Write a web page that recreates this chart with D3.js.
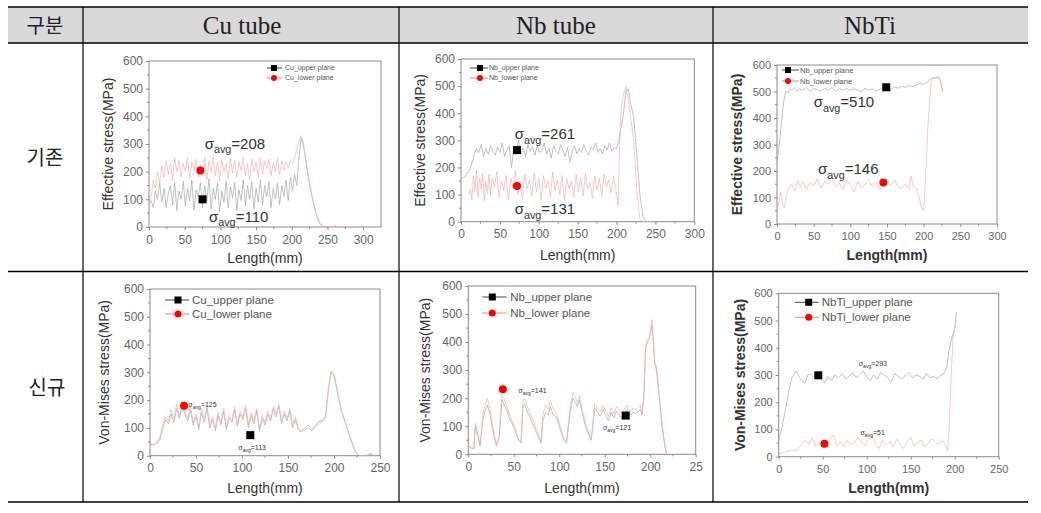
<!DOCTYPE html>
<html><head><meta charset="utf-8">
<script src="https://cdn.jsdelivr.net/npm/d3@7/dist/d3.min.js"></script>
<style>body{margin:0;background:#fff}svg{display:block}</style>
</head><body>
<svg id="c" width="1041" height="513"></svg>
<script>
// ---------- table text ----------
const headers = ["구분", "Cu tube", "Nb tube", "NbTi"];
const rowLabels = ["기존", "신규"];

// ---------- Chart 1: Cu tube, existing ----------
const c1UpX = [0,3,6,9,12,15,18,21,24,27,30,33,36,39,42,45,48,51,54,57,60,63,66,69,72,75,78,81,84,87,90,93,96,99,102,105,108,111,114,117,120,123,126,129,132,135,138,141,144,147,150,153,156,159,162,165,168,171,174,177,180,183,186,189,192,195,198,201,204,207,210,213,216,220,225,230,235,240,245,250];
const c1UpY = [80,95,70,130,100,160,90,140,70,120,150,80,160,60,130,100,165,75,140,95,170,60,135,110,160,70,150,90,175,65,140,100,160,55,130,90,165,70,145,105,160,60,135,95,170,75,150,100,165,65,140,90,170,80,150,110,165,70,140,100,160,80,150,110,170,95,180,130,190,150,250,320,300,230,150,90,40,10,0,0];
const c1LoX = [0,3,6,9,12,15,18,21,24,27,30,33,36,39,42,45,48,51,54,57,60,63,66,69,72,75,78,81,84,87,90,93,96,99,102,105,108,111,114,117,120,123,126,129,132,135,138,141,144,147,150,153,156,159,162,165,168,171,174,177,180,183,186,189,192,195,198,201,204,207,210,213,216,220,225,230,235,240,245,255,260,270,280];
const c1LoY = [90,110,170,140,200,160,220,180,240,190,230,170,250,200,240,180,230,200,250,175,235,205,245,180,225,190,250,170,240,200,255,185,235,170,245,200,230,175,250,195,240,180,235,205,250,185,230,170,245,200,235,180,250,190,240,210,245,185,230,200,250,190,240,205,235,215,240,230,250,280,310,330,310,240,160,90,40,10,0,0,5,0,3];
const c1Marks = [{x:75, y:100, s:"sq"}, {x:72, y:204, s:"ci"}];

// ---------- Chart 2: Nb tube, existing ----------
const c2UpX = [0,4,8,11,14,17,20,23,26,29,32,35,38,41,44,47,50,53,56,59,62,65,68,71,74,77,80,83,86,89,92,95,98,101,104,107,110,113,116,119,122,125,128,131,134,137,140,143,146,149,152,155,158,161,164,167,170,173,176,179,182,185,188,191,194,197,200,203,206,209,212,215,218,222,226,230,234,238];
const c2UpY = [160,165,175,190,215,250,270,255,285,240,270,250,280,260,245,275,255,290,240,265,280,200,275,260,300,250,270,240,285,260,275,245,280,255,265,290,250,270,235,280,260,250,285,265,240,275,220,260,280,250,270,255,285,260,245,275,265,290,255,270,250,280,265,290,260,275,270,300,350,400,480,490,440,385,250,100,20,0];
const c2LoX = [10,12,14,16,18,20,22,24,26,28,30,32,34,36,38,40,43,46,49,52,55,58,61,64,67,70,73,76,79,82,85,88,91,94,97,100,103,106,109,112,115,118,121,124,127,130,133,136,139,142,145,148,151,154,157,160,163,166,169,172,175,178,181,184,187,190,193,196,199,202,204,206,209,212,215,218,222,226,230,234,238,245];
const c2LoY = [100,120,80,170,110,190,90,160,120,180,75,150,105,175,95,160,130,185,90,150,115,170,80,160,125,190,100,140,85,175,120,155,95,180,110,160,80,170,125,150,90,185,115,155,100,170,80,160,120,150,90,175,110,160,95,180,120,145,85,170,115,160,95,175,130,155,105,170,120,60,300,410,470,500,450,385,300,120,10,0,0,0];
const c2Marks = [{x:72, y:264, s:"sq"}, {x:72, y:132, s:"ci"}];

// ---------- Chart 3: NbTi, existing ----------
const c3UpX = [0,3,6,9,12,15,18,21,24,27,30,35,40,45,50,55,60,65,70,75,80,85,90,95,100,105,110,115,120,125,130,135,140,145,150,155,160,165,170,175,180,185,190,195,200,205,208,212,216,220,223,226];
const c3UpY = [230,300,380,460,500,495,510,505,515,500,510,505,515,500,510,508,502,512,505,515,500,510,505,512,503,510,505,500,512,505,510,502,508,515,512,505,518,512,520,515,522,518,525,530,528,535,545,552,550,555,540,500];
const c3LoX = [0,3,5,8,10,13,16,20,24,28,32,36,40,45,50,55,60,65,70,75,80,85,90,95,100,105,110,115,120,125,130,135,140,145,150,155,160,165,170,175,180,183,186,190,194,197,200,203,206,210,214,218,222,226];
const c3LoY = [40,90,120,70,60,110,135,150,125,165,140,160,130,155,145,170,135,160,150,175,140,155,130,165,145,120,160,135,150,170,140,155,130,150,160,145,165,140,135,150,130,180,140,135,100,60,50,200,380,540,550,555,545,500];
const c3Marks = [{x:149, y:516, s:"sq"}, {x:145, y:157, s:"ci"}];

// ---------- Chart 4: Cu tube, new ----------
const c4X = [0,4,8,11,14,17,20,23,26,29,32,35,38,41,44,47,50,53,56,59,62,65,68,71,74,77,80,83,86,89,92,95,98,101,104,107,110,113,116,119,122,125,128,131,134,137,140,143,146,149,152,155,158,161,164,168,172,176,180,184,188,191,194,197,200,204,208,212,216,220,224,228,232,236,240,244];
const c4UpY = [40,40,45,60,100,130,115,150,120,170,135,180,150,125,165,110,140,95,155,120,170,100,130,90,145,110,160,95,135,120,165,105,150,130,170,100,145,115,160,90,135,110,150,125,170,140,180,115,150,125,160,100,130,95,85,95,100,90,105,120,125,140,240,300,290,220,160,120,80,40,10,0,0,2,8,0];
const c4LoY = [45,38,50,70,110,140,125,165,130,185,145,190,160,135,180,120,150,105,170,130,180,110,140,100,155,120,170,105,145,130,175,115,160,140,180,110,155,125,170,100,145,120,160,135,175,150,185,125,160,135,170,110,140,105,90,100,110,95,110,125,130,150,250,305,295,230,165,125,85,45,12,0,0,0,5,0];
const c4Marks = [{x:109, y:74, s:"sq"}, {x:37, y:180, s:"ci"}];

// ---------- Chart 5: Nb tube, new ----------
const c5X = [0,3,6,8,10,13,16,18,21,24,27,31,34,36,37,39,42,45,48,51,55,58,60,62,65,68,72,76,80,82,85,88,90,93,97,101,105,108,112,115,118,120,122,125,128,131,135,137,139,142,145,148,151,154,157,160,163,166,169,172,175,178,181,184,187,189,191,193,195,197,199,202,205,207,210,213,216,218,220];
const c5UpY = [30,22,20,100,70,30,120,150,175,140,80,30,60,150,195,180,160,130,110,90,50,40,170,180,150,130,100,70,40,120,150,140,170,145,130,90,50,40,150,200,185,170,195,150,110,80,50,100,165,150,135,160,140,120,150,130,155,140,125,150,160,135,150,145,155,160,140,200,380,400,410,460,320,300,200,100,30,0,0];
const c5LoY = [32,25,22,110,80,35,140,170,200,160,95,35,70,170,215,200,175,145,120,100,55,45,190,200,170,145,115,80,45,140,175,160,190,165,145,100,55,45,170,220,200,185,210,165,125,90,55,115,180,165,150,175,155,135,165,145,170,155,140,165,175,150,165,160,170,175,150,220,390,410,420,480,330,310,210,110,35,0,0];
const c5Marks = [{x:173, y:138, s:"sq"}, {x:38, y:232, s:"ci"}];

// ---------- Chart 6: NbTi, new ----------
const c6UpX = [0,4,8,12,15,18,20,23,26,30,33,36,40,44,48,52,56,60,64,68,72,76,80,84,88,92,96,100,104,108,112,116,120,124,128,132,136,140,144,148,152,156,160,164,168,172,176,180,184,188,191,194,197,200,202];
const c6UpY = [60,110,180,250,290,305,315,295,280,270,300,305,290,300,285,270,295,280,300,290,305,285,295,310,290,300,315,295,280,300,285,310,300,290,275,305,295,285,300,310,290,300,295,285,305,290,295,285,300,305,330,400,440,470,530];
const c6LoX = [0,5,10,15,20,25,30,34,38,42,46,50,54,58,62,66,70,74,78,82,86,90,94,98,102,106,110,114,118,122,126,130,134,138,142,146,150,154,158,162,166,170,174,178,182,186,190,192,194,196,198,200,202];
const c6LoY = [10,15,20,25,20,40,60,45,70,40,55,30,45,65,80,40,55,35,60,45,50,70,55,40,60,75,50,30,60,45,55,35,65,45,30,55,70,40,55,60,35,50,65,55,45,60,40,20,120,300,430,470,500];
const c6Marks = [{x:45, y:299, s:"sq"}, {x:52, y:48, s:"ci"}];

// ---------- axis tick labels ----------
const yTicks = [0,100,200,300,400,500,600];
const xTicks300 = [0,50,100,150,200,250,300];
const xTicks250 = [0,50,100,150,200,250];
const xLabels250trunc = ["0","50","100","150","200","25"];

const svg = d3.select("#c");
const FONT = "'Liberation Sans', Arial, sans-serif";

// ---------- table ----------
svg.append("rect").attr("x",8).attr("y",7).attr("width",1020).attr("height",36).attr("fill","#d9d9d9");
[[7],[43],[271.5],[502]].forEach(([y])=>{
  svg.append("line").attr("x1",8).attr("x2",1028).attr("y1",y).attr("y2",y).attr("stroke","#000").attr("stroke-width", 1.5);
});
[83,399,713].forEach(x=>{
  svg.append("line").attr("x1",x).attr("x2",x).attr("y1",7).attr("y2",502).attr("stroke","#000").attr("stroke-width",1.2);
});
const hx = [45, 242, 556, 870];
headers.forEach((h,i)=>{
  svg.append("text").attr("x",hx[i]).attr("y",i===0?33:34).attr("text-anchor","middle")
    .attr("font-family", i===0 ? "'Noto Sans CJK KR', sans-serif" : "'Liberation Serif', serif")
    .attr("font-size", i===0?20:25).attr("fill","#222").text(h);
});
svg.append("text").attr("x",45).attr("y",165).attr("text-anchor","middle").attr("font-family","'Noto Sans CJK KR', sans-serif").attr("font-size",20).attr("fill","#222").text(rowLabels[0]);
svg.append("text").attr("x",47).attr("y",395).attr("text-anchor","middle").attr("font-family","'Noto Sans CJK KR', sans-serif").attr("font-size",20).attr("fill","#222").text(rowLabels[1]);

// ---------- chart drawer ----------
let clipId = 0;
function drawChart(cfg){
  const g = svg.append("g");
  const x = d3.scaleLinear().domain([0,cfg.xMax]).range([cfg.left, cfg.right]);
  const y = d3.scaleLinear().domain([0,600]).range([cfg.bottom, cfg.top]);
  const id = "clip"+(clipId++);
  g.append("clipPath").attr("id",id).append("rect")
    .attr("x",cfg.left).attr("y",cfg.top-2).attr("width",cfg.right-cfg.left).attr("height",cfg.bottom-cfg.top+2);
  const axisCol = "#8a8a8a";
  const xa = d3.axisBottom(x).tickValues(cfg.xTicks).tickSize(3).tickFormat((d,i)=>cfg.xLabels ? cfg.xLabels[i] : d);
  const gx = g.append("g").attr("transform",`translate(0,${cfg.bottom})`).call(xa);
  const ya = d3.axisLeft(y).tickValues(yTicks).tickSize(3);
  const gy = g.append("g").attr("transform",`translate(${cfg.left},0)`).call(ya);
  [gx,gy].forEach(a=>{
    a.select(".domain").remove();
    a.selectAll(".tick line").attr("stroke",axisCol);
    a.selectAll(".tick text").attr("font-family",FONT).attr("font-size",cfg.tickFs).attr("fill","#666");
  });
  gx.selectAll(".tick text").attr("dy","0.9em");
  const xm = []; for(let i=0;i<cfg.xTicks.length-1;i++) xm.push((cfg.xTicks[i]+cfg.xTicks[i+1])/2);
  g.selectAll(null).data(xm).enter().append("line").attr("x1",d=>x(d)).attr("x2",d=>x(d)).attr("y1",cfg.bottom).attr("y2",cfg.bottom+2).attr("stroke",axisCol);
  const ym = [50,150,250,350,450,550];
  g.selectAll(null).data(ym).enter().append("line").attr("y1",d=>y(d)).attr("y2",d=>y(d)).attr("x1",cfg.left).attr("x2",cfg.left-2).attr("stroke",axisCol);
  g.append("rect").attr("x",cfg.left).attr("y",cfg.top).attr("width",cfg.right-cfg.left).attr("height",cfg.bottom-cfg.top)
    .attr("fill","none").attr("stroke",axisCol).attr("stroke-width",1);
  const line = d3.line().x(d=>x(d[0])).y(d=>y(d[1]));
  cfg.series.forEach(s=>{
    const pts = s.x.map((v,i)=>[v,s.y[i]]);
    g.append("path").attr("d",line(pts)).attr("fill","none").attr("stroke",s.color)
      .attr("stroke-width",0.7).attr("clip-path",`url(#${id})`);
  });
  const ms = cfg.markSize;
  cfg.marks.forEach(m=>{
    if(m.s==="sq") g.append("rect").attr("x",x(m.x)-ms/2).attr("y",y(m.y)-ms/2).attr("width",ms).attr("height",ms).attr("fill","#000");
    else g.append("circle").attr("cx",x(m.x)).attr("cy",y(m.y)).attr("r",ms/2).attr("fill","#f00");
  });
  const L = cfg.legend;
  L.items.forEach((it,i)=>{
    const ly = cfg.top + L.y[i];
    g.append("line").attr("x1",cfg.left+L.x0).attr("x2",cfg.left+L.x1).attr("y1",ly).attr("y2",ly)
      .attr("stroke", i===0?"#444":"#f08080").attr("stroke-width",1);
    const mx = cfg.left + L.mx, lm = L.ms;
    if(i===0) g.append("rect").attr("x",mx-lm/2).attr("y",ly-lm/2).attr("width",lm).attr("height",lm).attr("fill","#000");
    else g.append("circle").attr("cx",mx).attr("cy",ly).attr("r",lm/2).attr("fill","#f00");
    g.append("text").attr("x",cfg.left+L.tx).attr("y",ly).attr("dy","0.35em").attr("font-family",FONT)
      .attr("font-size",L.fs).attr("fill","#555").text(it);
  });
  cfg.annots.forEach(a=>{
    const t = g.append("text").attr("x",x(a.x)).attr("y",y(a.y)).attr("font-family",FONT).attr("font-size",a.fs).attr("fill","#333");
    t.append("tspan").text("σ");
    t.append("tspan").attr("font-size",a.fs*0.72).attr("dy",a.fs*0.3).text("avg");
    t.append("tspan").attr("dy",-a.fs*0.3).text("=" + a.v);
  });
  const cy = (cfg.top+cfg.bottom)/2;
  g.append("text").attr("transform",`translate(${cfg.left-cfg.yTitleOff},${cy}) rotate(-90)`).attr("text-anchor","middle")
    .attr("dy","0.35em").attr("font-family",FONT).attr("font-size",14).attr("font-weight",cfg.bold?"bold":"normal")
    .attr("fill","#333").text(cfg.yTitle);
  g.append("text").attr("x",(cfg.left+cfg.right)/2).attr("y",cfg.bottom+cfg.xTitleOff).attr("text-anchor","middle")
    .attr("dy","0.35em").attr("font-family",FONT).attr("font-size",14).attr("font-weight",cfg.bold?"bold":"normal")
    .attr("fill","#333").text("Length(mm)");
}

const GRAY = "#a8a8a8", PINK = "#f4b0b0";

drawChart({left:149,right:381,top:61,bottom:227,xMax:325,xTicks:xTicks300,tickFs:12,
  series:[{x:c1UpX,y:c1UpY,color:GRAY},{x:c1LoX,y:c1LoY,color:PINK}],
  marks:c1Marks,markSize:8,
  legend:{items:["Cu_upper plane","Cu_lower plane"],x0:118,x1:133,mx:125,ms:6,tx:136,y:[7,17],fs:7},
  annots:[{x:78,y:282,v:"208",fs:15},{x:84,y:19,v:"110",fs:15}],
  yTitle:"Effective stress(MPa)",yTitleOff:41,xTitleOff:31,bold:false});

drawChart({left:461,right:694.3,top:59,bottom:221.7,xMax:300,xTicks:xTicks300,tickFs:12,
  series:[{x:c2UpX,y:c2UpY,color:GRAY},{x:c2LoX,y:c2LoY,color:PINK}],
  marks:c2Marks,markSize:8,
  legend:{items:["Nb_upper plane","Nb_lower plane"],x0:9,x1:27,mx:19,ms:6,tx:28,y:[9,19],fs:7},
  annots:[{x:69,y:304,v:"261",fs:15},{x:69,y:28,v:"131",fs:15}],
  yTitle:"Effective stress(MPa)",yTitleOff:41,xTitleOff:33,bold:false});

drawChart({left:777,right:997,top:65,bottom:224,xMax:300,xTicks:xTicks300,tickFs:11,
  series:[{x:c3UpX,y:c3UpY,color:GRAY},{x:c3LoX,y:c3LoY,color:PINK}],
  marks:c3Marks,markSize:8,
  legend:{items:["Nb_upper plane","Nb_lower plane"],x0:5,x1:22,mx:11,ms:6,tx:23,y:[5,16],fs:7.5},
  annots:[{x:50,y:440,v:"510",fs:15},{x:56,y:188,v:"146",fs:15}],
  yTitle:"Effective stress(MPa)",yTitleOff:40,xTitleOff:31,bold:true});

drawChart({left:150,right:380,top:289,bottom:455.7,xMax:250,xTicks:xTicks250,tickFs:12,
  series:[{x:c4X,y:c4UpY,color:GRAY},{x:c4X,y:c4LoY,color:PINK}],
  marks:c4Marks,markSize:8,
  legend:{items:["Cu_upper plane","Cu_lower plane"],x0:15,x1:39,mx:28,ms:7,tx:42,y:[11,25],fs:11.5},
  annots:[{x:41.7,y:176,v:"125",fs:7},{x:96,y:20,v:"113",fs:7}],
  yTitle:"Von-Mises stress(MPa)",yTitleOff:46,xTitleOff:32,bold:false});

drawChart({left:468.3,right:695.7,top:286,bottom:454.3,xMax:250,xTicks:xTicks250,xLabels:xLabels250trunc,tickFs:12,
  series:[{x:c5X,y:c5UpY,color:GRAY},{x:c5X,y:c5LoY,color:PINK}],
  marks:c5Marks,markSize:8,
  legend:{items:["Nb_upper plane","Nb_lower plane"],x0:14,x1:38,mx:24,ms:7,tx:42,y:[11,27],fs:11.5},
  annots:[{x:55,y:220,v:"141",fs:7},{x:148,y:87,v:"121",fs:7}],
  yTitle:"Von-Mises stress(MPa)",yTitleOff:43,xTitleOff:34,bold:false});

drawChart({left:778.7,right:998.7,top:293.3,bottom:456.7,xMax:250,xTicks:xTicks250,tickFs:11,
  series:[{x:c6UpX,y:c6UpY,color:GRAY},{x:c6LoX,y:c6LoY,color:PINK}],
  marks:c6Marks,markSize:8,
  legend:{items:["NbTi_upper plane","NbTi_lower plane"],x0:16,x1:40,mx:30,ms:7,tx:43,y:[9,24],fs:11.5},
  annots:[{x:91,y:333,v:"293",fs:7},{x:93,y:80,v:"51",fs:7}],
  yTitle:"Von-Mises stress(MPa)",yTitleOff:39,xTitleOff:31,bold:true});
</script>
</body></html>
